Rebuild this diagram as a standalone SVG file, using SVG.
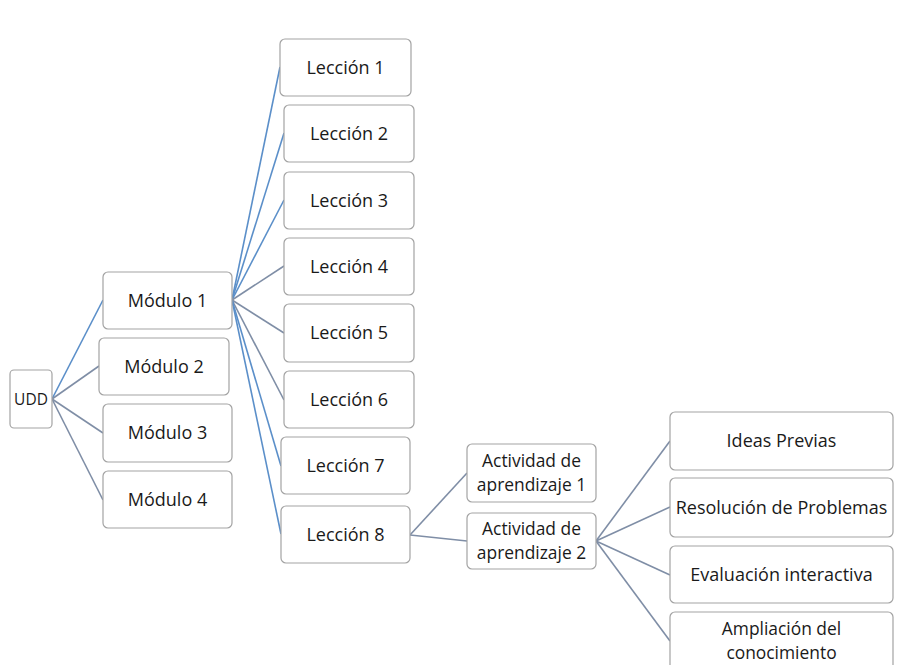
<svg xmlns="http://www.w3.org/2000/svg" width="906" height="665" viewBox="0 0 906 665">
  <style>
    .box rect { fill: #ffffff; stroke: #a3a3a3; stroke-width: 1.2; }
    .box text { font-family: "Open Sans", "Liberation Sans", sans-serif; font-size: 18px; fill: #1a1a1a; text-anchor: middle; }
    .box text.small { font-size: 15.5px; }
    .box text.two { font-size: 17.4px; }
    .link { fill: none; stroke-width: 1.6; }
    .blue { stroke: #5b8fc9; }
    .grey { stroke: #7f8ea6; }
  </style>
  <rect width="906" height="665" fill="#ffffff"/>

  <!-- connectors -->
  <g id="connectors">
    <line class="link blue" x1="52" y1="399" x2="103" y2="300"/>
    <line class="link grey" x1="52" y1="399" x2="99" y2="366"/>
    <line class="link grey" x1="52" y1="399" x2="103" y2="433"/>
    <line class="link grey" x1="52" y1="399" x2="103" y2="500"/>

    <line class="link blue" x1="232" y1="300" x2="280" y2="67"/>
    <line class="link blue" x1="232" y1="300" x2="284" y2="133"/>
    <line class="link blue" x1="232" y1="300" x2="284" y2="200"/>
    <line class="link grey" x1="232" y1="300" x2="284" y2="266"/>
    <line class="link grey" x1="232" y1="300" x2="284" y2="333"/>
    <line class="link grey" x1="232" y1="300" x2="284" y2="400"/>
    <line class="link blue" x1="232" y1="300" x2="281" y2="466"/>
    <line class="link blue" x1="232" y1="300" x2="281" y2="534"/>

    <line class="link grey" x1="410" y1="535" x2="467" y2="473"/>
    <line class="link grey" x1="410" y1="535" x2="467" y2="541"/>

    <line class="link grey" x1="596" y1="541" x2="670" y2="441"/>
    <line class="link grey" x1="596" y1="541" x2="670" y2="507"/>
    <line class="link grey" x1="596" y1="541" x2="670" y2="575"/>
    <line class="link grey" x1="596" y1="541" x2="670" y2="641"/>
  </g>

  <!-- root -->
  <g id="udd" class="box">
    <rect x="10" y="370" width="42" height="58" rx="4"/>
    <text class="small" x="31" y="405">UDD</text>
  </g>

  <!-- modules -->
  <g id="modulo1" class="box">
    <rect x="103" y="272" width="129" height="57" rx="5"/>
    <text x="167.5" y="306.5">Módulo 1</text>
  </g>
  <g id="modulo2" class="box">
    <rect x="99" y="338" width="130" height="57" rx="5"/>
    <text x="164" y="372.5">Módulo 2</text>
  </g>
  <g id="modulo3" class="box">
    <rect x="103" y="404" width="129" height="58" rx="5"/>
    <text x="167.5" y="439">Módulo 3</text>
  </g>
  <g id="modulo4" class="box">
    <rect x="103" y="471" width="129" height="57" rx="5"/>
    <text x="167.5" y="505.5">Módulo 4</text>
  </g>

  <!-- lessons of module 1 -->
  <g id="leccion1" class="box">
    <rect x="280" y="39" width="131" height="57" rx="5"/>
    <text x="345.5" y="73.5">Lección 1</text>
  </g>
  <g id="leccion2" class="box">
    <rect x="284" y="105" width="130" height="57" rx="5"/>
    <text x="349" y="139.5">Lección 2</text>
  </g>
  <g id="leccion3" class="box">
    <rect x="284" y="172" width="130" height="57" rx="5"/>
    <text x="349" y="206.5">Lección 3</text>
  </g>
  <g id="leccion4" class="box">
    <rect x="284" y="238" width="130" height="57" rx="5"/>
    <text x="349" y="272.5">Lección 4</text>
  </g>
  <g id="leccion5" class="box">
    <rect x="284" y="304" width="130" height="58" rx="5"/>
    <text x="349" y="339">Lección 5</text>
  </g>
  <g id="leccion6" class="box">
    <rect x="284" y="371" width="130" height="57" rx="5"/>
    <text x="349" y="405.5">Lección 6</text>
  </g>
  <g id="leccion7" class="box">
    <rect x="281" y="437" width="129" height="57" rx="5"/>
    <text x="345.5" y="471.5">Lección 7</text>
  </g>
  <g id="leccion8" class="box">
    <rect x="281" y="506" width="129" height="57" rx="5"/>
    <text x="345.5" y="540.5">Lección 8</text>
  </g>

  <!-- learning activities -->
  <g id="actividad1" class="box">
    <rect x="467" y="444" width="129" height="58" rx="5"/>
    <text class="two" x="531.5" y="467">Actividad de</text>
    <text class="two" x="531.5" y="491">aprendizaje 1</text>
  </g>
  <g id="actividad2" class="box">
    <rect x="467" y="513" width="129" height="56" rx="5"/>
    <text class="two" x="531.5" y="535">Actividad de</text>
    <text class="two" x="531.5" y="559">aprendizaje 2</text>
  </g>

  <!-- parts of activity 2 -->
  <g id="ideas-previas" class="box">
    <rect x="670" y="412" width="223" height="58" rx="5"/>
    <text x="781.5" y="447">Ideas Previas</text>
  </g>
  <g id="resolucion" class="box">
    <rect x="670" y="478" width="223" height="59" rx="5"/>
    <text x="781.5" y="513.5">Resolución de Problemas</text>
  </g>
  <g id="evaluacion" class="box">
    <rect x="670" y="546" width="223" height="57" rx="5"/>
    <text x="781.5" y="580.5">Evaluación interactiva</text>
  </g>
  <g id="ampliacion" class="box">
    <rect x="670" y="612" width="223" height="60" rx="5"/>
    <text class="two" x="781.5" y="634.5">Ampliación del</text>
    <text class="two" x="781.5" y="658.5">conocimiento</text>
  </g>
</svg>
